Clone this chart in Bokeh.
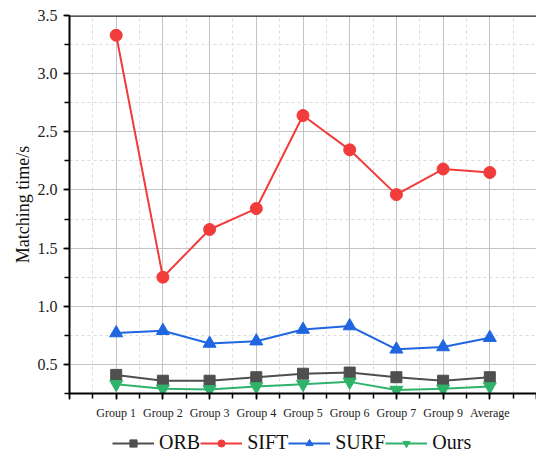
from bokeh.plotting import figure
from bokeh.layouts import column
from bokeh.models import (Range1d, SingleIntervalTicker, PrintfTickFormatter,
                          Span, Legend, LegendItem)
from bokeh.embed import file_html
from bokeh.resources import INLINE

# Matching time per test group (seconds)
groups = ["Group 1", "Group 2", "Group 3", "Group 4", "Group 5",
          "Group 6", "Group 7", "Group 9", "Average"]
orb = [0.41, 0.36, 0.36, 0.39, 0.42, 0.43, 0.39, 0.36, 0.39]
sift = [3.33, 1.25, 1.66, 1.84, 2.64, 2.345, 1.96, 2.18, 2.15]
surf = [0.77, 0.79, 0.68, 0.70, 0.80, 0.83, 0.63, 0.65, 0.73]
ours = [0.33, 0.29, 0.285, 0.31, 0.33, 0.35, 0.28, 0.29, 0.31]

xs = list(range(1, len(groups) + 1))
FONT = "Liberation Serif"

p = figure(width=536, height=423, output_backend="svg", toolbar_location=None,
           x_range=Range1d(0, 10), y_range=Range1d(0.25, 3.5),
           min_border_left=69, min_border_right=0, min_border_top=15,
           min_border_bottom=30)
p.outline_line_color = None
p.background_fill_color = "white"

# bottom axis
xa = p.xaxis[0]
xa.ticker = SingleIntervalTicker(interval=1, num_minor_ticks=2)
labels = {i: g for i, g in zip(xs, groups)}
labels.update({0: "", 10: ""})
xa.major_label_overrides = labels
xa.major_label_text_font = FONT
xa.major_label_text_font_size = "12px"
xa.major_label_text_color = "#222222"
xa.major_label_standoff = 6
xa.axis_line_width = 2
xa.axis_line_color = "black"
xa.major_tick_in = 0
xa.major_tick_out = 6
xa.minor_tick_in = 0
xa.minor_tick_out = 5
xa.major_tick_line_width = 1.5
xa.minor_tick_line_width = 1.5

# left axis
ya = p.yaxis[0]
ya.ticker = SingleIntervalTicker(interval=0.5, num_minor_ticks=2)
ya.formatter = PrintfTickFormatter(format="%.1f")
ya.major_label_text_font = FONT
ya.major_label_text_font_size = "16px"
ya.major_label_text_color = "#222222"
ya.major_label_standoff = 6
ya.axis_label = "Matching time/s"
ya.axis_label_text_font = FONT
ya.axis_label_text_font_style = "normal"
ya.axis_label_text_font_size = "18px"
ya.axis_label_text_color = "#111111"
ya.axis_label_standoff = 2
ya.axis_line_width = 2
ya.axis_line_color = "black"
ya.major_tick_in = 0
ya.major_tick_out = 6
ya.minor_tick_in = 0
ya.minor_tick_out = 5
ya.major_tick_line_width = 1.5
ya.minor_tick_line_width = 1.5

# grid
for g in (p.xgrid[0], p.ygrid[0]):
    g.grid_line_color = "#c4c4c4"
    g.grid_line_width = 1
    g.minor_grid_line_color = "#dcdcdc"
    g.minor_grid_line_dash = "3 3"
    g.minor_grid_line_width = 1
p.xgrid[0].ticker = xa.ticker
p.ygrid[0].ticker = ya.ticker

# plain top border
p.add_layout(Span(location=3.5, dimension="width", line_color="#222222",
                  line_width=2.5))

series = [
    ("ORB", orb, "#4f4f4f", "square", 11),
    ("SIFT", sift, "#f23b3b", "circle", 12),
    ("SURF", surf, "#1f66e0", "triangle", 13),
    ("Ours", ours, "#2fb36b", "inverted_triangle", 13),
]

# strip under the chart that carries the legend
leg = figure(width=536, height=31, output_backend="svg", toolbar_location=None,
             x_range=Range1d(0, 1), y_range=Range1d(0, 1), min_border=0)
leg.outline_line_color = None
leg.axis.visible = False
leg.grid.visible = False

items = []
for name, ys, color, marker, size in series:
    p.line(xs, ys, line_color=color, line_width=2)
    p.scatter(xs, ys, marker=marker, size=size, fill_color=color,
              line_color=color)
    # legend swatches: same styling, placed outside the strip's visible range
    l1 = leg.line([-5, -4], [-5, -5], line_color=color, line_width=2)
    l2 = leg.scatter([-5], [-5], marker=marker, size=10, fill_color=color,
                     line_color=color)
    items.append(LegendItem(label=name, renderers=[l1, l2]))

legend = Legend(items=items, orientation="horizontal", location=(43, 0),
                label_text_font=FONT, label_text_font_size="20px",
                label_text_color="#111111", label_height=20,
                glyph_width=42, glyph_height=18, spacing=0,
                label_standoff=5, padding=0, margin=0,
                border_line_color=None, background_fill_alpha=0)
leg.add_layout(legend, "center")

open("out.html", "w").write(file_html(column(p, leg, spacing=0), INLINE))
